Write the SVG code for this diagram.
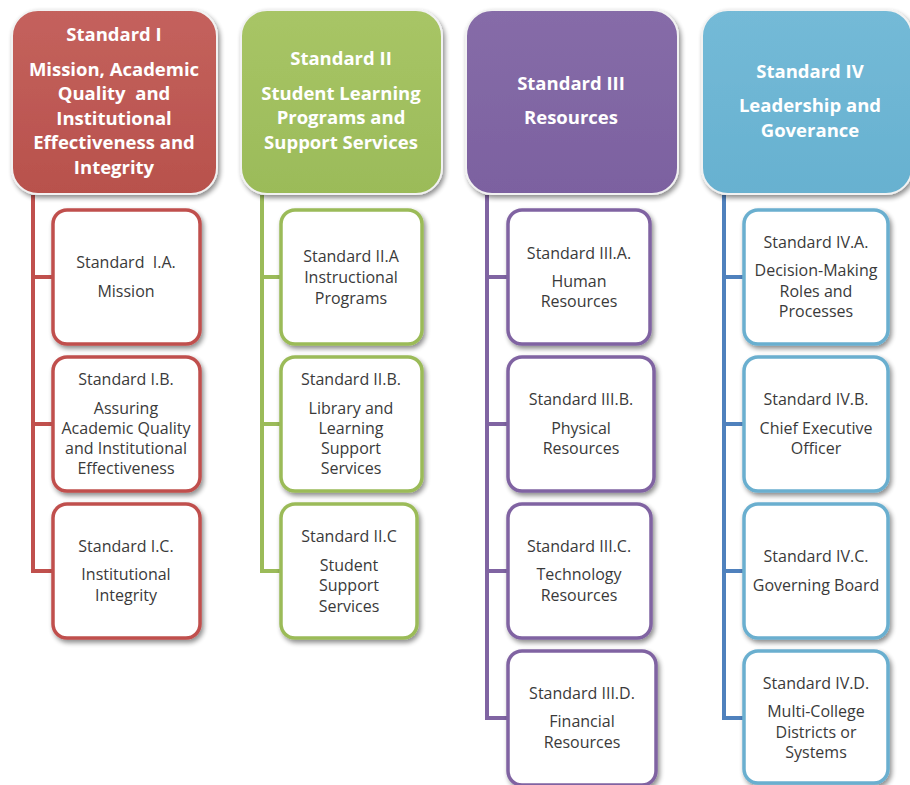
<svg xmlns="http://www.w3.org/2000/svg" width="910" height="785" viewBox="0 0 910 785">
<defs>
<filter id="sh" x="-10%" y="-10%" width="125%" height="125%">
<feGaussianBlur in="SourceAlpha" stdDeviation="2.5"/>
<feOffset dx="2" dy="3" result="b"/>
<feComponentTransfer><feFuncA type="linear" slope="0.45"/></feComponentTransfer>
<feMerge><feMergeNode/><feMergeNode in="SourceGraphic"/></feMerge>
</filter>
<linearGradient id="g1" x1="0" y1="0" x2="0" y2="1"><stop offset="0" stop-color="#C4625D"/><stop offset="1" stop-color="#B8514C"/></linearGradient>
<linearGradient id="g2" x1="0" y1="0" x2="0" y2="1"><stop offset="0" stop-color="#A8C566"/><stop offset="1" stop-color="#9BBB59"/></linearGradient>
<linearGradient id="g3" x1="0" y1="0" x2="0" y2="1"><stop offset="0" stop-color="#866CA8"/><stop offset="1" stop-color="#7C61A0"/></linearGradient>
<linearGradient id="g4" x1="0" y1="0" x2="0" y2="1"><stop offset="0" stop-color="#74BAD7"/><stop offset="1" stop-color="#67B1D0"/></linearGradient>
</defs>
<style>
.hd{stroke:#F2F2F2;stroke-width:2;filter:url(#sh)}
.ht{font-family:"Open Sans","Liberation Sans",sans-serif;font-weight:bold;font-size:18.5px;fill:#FFFFFF;text-anchor:middle;white-space:pre}
.ch{fill:#FFFFFF;stroke-width:3.5;filter:url(#sh)}
.ct{font-family:"Open Sans","Liberation Sans",sans-serif;font-size:16px;fill:#3A3A3A;text-anchor:middle;white-space:pre}
.c1{stroke:#C0504D}.c2{stroke:#9BBB59}.c3{stroke:#8064A2}.c4{stroke:#6BAFCF}
.ln{fill:none;stroke-width:4}
</style>
<g id="connectors">
<path class="ln" stroke="#C0504D" d="M33 195 V571 M33 277 H52 M33 424 H52 M31 571 H52"/>
<path class="ln" stroke="#9BBB59" d="M262 195 V571 M262 277 H280 M262 424 H280 M260 571 H280"/>
<path class="ln" stroke="#8064A2" d="M487 195 V718 M487 277 H507 M487 424 H507 M487 571 H507 M485 718 H507"/>
<path class="ln" stroke="#4F81BD" d="M724 195 V718 M724 277 H743 M724 424 H743 M724 571 H743 M722 718 H743"/>
</g>
<g id="std1">
<rect class="hd" x="12" y="10" width="205" height="184" rx="26" fill="url(#g1)"/>
<text class="ht" x="114" y="41">Standard I</text>
<text class="ht" x="114" y="76">Mission, Academic</text>
<text class="ht" x="114" y="100">Quality  and</text>
<text class="ht" x="114" y="125">Institutional</text>
<text class="ht" x="114" y="149">Effectiveness and</text>
<text class="ht" x="114" y="174">Integrity</text>
</g>
<g id="std2">
<rect class="hd" x="241" y="10" width="201" height="184" rx="26" fill="url(#g2)"/>
<text class="ht" x="341" y="65">Standard II</text>
<text class="ht" x="341" y="100">Student Learning</text>
<text class="ht" x="341" y="124">Programs and</text>
<text class="ht" x="341" y="149">Support Services</text>
</g>
<g id="std3">
<rect class="hd" x="466" y="10" width="212" height="184" rx="26" fill="url(#g3)"/>
<text class="ht" x="571" y="90">Standard III</text>
<text class="ht" x="571" y="124">Resources</text>
</g>
<g id="std4">
<rect class="hd" x="702" y="10" width="210" height="184" rx="26" fill="url(#g4)"/>
<text class="ht" x="810" y="78">Standard IV</text>
<text class="ht" x="810" y="112">Leadership and</text>
<text class="ht" x="810" y="137">Goverance</text>
</g>
<g id="std1a"><rect class="ch c1" x="53" y="210" width="147" height="134" rx="14"/>
<text class="ct" x="126" y="268">Standard  I.A.</text><text class="ct" x="126" y="297">Mission</text></g>
<g id="std1b"><rect class="ch c1" x="53" y="357" width="147" height="134" rx="14"/>
<text class="ct" x="126" y="385">Standard I.B.</text><text class="ct" x="126" y="414">Assuring</text><text class="ct" x="126" y="434">Academic Quality</text><text class="ct" x="126" y="454">and Institutional</text><text class="ct" x="126" y="474">Effectiveness</text></g>
<g id="std1c"><rect class="ch c1" x="53" y="504" width="147" height="134" rx="14"/>
<text class="ct" x="126" y="552">Standard I.C.</text><text class="ct" x="126" y="580">Institutional</text><text class="ct" x="126" y="601">Integrity</text></g>
<g id="std2a"><rect class="ch c2" x="281" y="210" width="141" height="134" rx="14"/>
<text class="ct" x="351" y="262">Standard II.A</text><text class="ct" x="351" y="283">Instructional</text><text class="ct" x="351" y="304">Programs</text></g>
<g id="std2b"><rect class="ch c2" x="281" y="357" width="141" height="134" rx="14"/>
<text class="ct" x="351" y="385">Standard II.B.</text><text class="ct" x="351" y="414">Library and</text><text class="ct" x="351" y="434">Learning</text><text class="ct" x="351" y="454">Support</text><text class="ct" x="351" y="474">Services</text></g>
<g id="std2c"><rect class="ch c2" x="281" y="504" width="136" height="134" rx="14"/>
<text class="ct" x="349" y="542">Standard II.C</text><text class="ct" x="349" y="571">Student</text><text class="ct" x="349" y="591">Support</text><text class="ct" x="349" y="612">Services</text></g>
<g id="std3a"><rect class="ch c3" x="508" y="210" width="142" height="134" rx="14"/>
<text class="ct" x="579" y="259">Standard III.A.</text><text class="ct" x="579" y="287">Human</text><text class="ct" x="579" y="307">Resources</text></g>
<g id="std3b"><rect class="ch c3" x="508" y="357" width="146" height="134" rx="14"/>
<text class="ct" x="581" y="405">Standard III.B.</text><text class="ct" x="581" y="434">Physical</text><text class="ct" x="581" y="454">Resources</text></g>
<g id="std3c"><rect class="ch c3" x="508" y="504" width="143" height="134" rx="14"/>
<text class="ct" x="579" y="552">Standard III.C.</text><text class="ct" x="579" y="580">Technology</text><text class="ct" x="579" y="601">Resources</text></g>
<g id="std3d"><rect class="ch c3" x="508" y="651" width="148" height="134" rx="14"/>
<text class="ct" x="582" y="699">Standard III.D.</text><text class="ct" x="582" y="727">Financial</text><text class="ct" x="582" y="748">Resources</text></g>
<g id="std4a"><rect class="ch c4" x="744" y="210" width="144" height="134" rx="14"/>
<text class="ct" x="816" y="248">Standard IV.A.</text><text class="ct" x="816" y="276">Decision-Making</text><text class="ct" x="816" y="297">Roles and</text><text class="ct" x="816" y="317">Processes</text></g>
<g id="std4b"><rect class="ch c4" x="744" y="357" width="144" height="134" rx="14"/>
<text class="ct" x="816" y="405">Standard IV.B.</text><text class="ct" x="816" y="434">Chief Executive</text><text class="ct" x="816" y="454">Officer</text></g>
<g id="std4c"><rect class="ch c4" x="744" y="504" width="144" height="134" rx="14"/>
<text class="ct" x="816" y="562">Standard IV.C.</text><text class="ct" x="816" y="591">Governing Board</text></g>
<g id="std4d"><rect class="ch c4" x="744" y="651" width="144" height="132" rx="14"/>
<text class="ct" x="816" y="689">Standard IV.D.</text><text class="ct" x="816" y="717">Multi-College</text><text class="ct" x="816" y="738">Districts or</text><text class="ct" x="816" y="758">Systems</text></g>
</svg>
